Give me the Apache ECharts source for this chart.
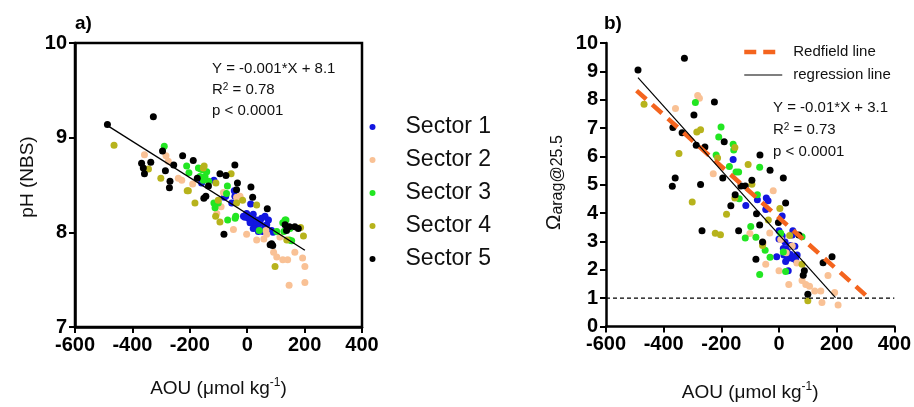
<!DOCTYPE html>
<html>
<head>
<meta charset="utf-8">
<script src="https://cdn.jsdelivr.net/npm/echarts@6/dist/echarts.min.js"></script>
<style>
html,body{margin:0;padding:0;background:#fff;}
#chart{width:914px;height:407px;}
</style>
</head>
<body>
<div id="chart"></div>
<script>
// ---------- DATA ----------
const sectorNames = ['Sector 1', 'Sector 2', 'Sector 3', 'Sector 4', 'Sector 5'];
const xTicks = [-600, -400, -200, 0, 200, 400];

// Panel a: pH (NBS) vs AOU
const pHSector1 = [[-159,8.52],[-116,8.55],[-80,8.37],[-75,8.38],[-54,8.31],[-45,8.44],[-43,8.38],[-2,8.2],[4,8.15],[12,8.3],[13,8.13],[21,8.19],[27,8.08],[33,8.04],[45,8.1],[50,8.15],[62,8.17],[68,8.08],[54,8.01],[39,8.01],[21,8.04],[10,8.1],[-8,8.16],[-13,8.17],[85,8.02],[74,8.13],[33,8.13],[45,8.03],[62,8.06],[90,8.0]];
const pHSector2 = [[-358,8.82],[-283,8.81],[-275,8.75],[-240,8.57],[-228,8.55],[-190,8.51],[-106,8.2],[-91,8.27],[-83,8.42],[-37,8.37],[-25,8.38],[-22,8.35],[-48,8.03],[-2,7.98],[33,7.92],[58,7.93],[65,8.02],[68,7.98],[92,7.79],[103,7.74],[114,7.95],[124,7.71],[141,7.71],[166,7.79],[193,7.73],[201,7.64],[146,7.44],[201,7.47]];
const pHSector3 = [[-289,8.91],[-211,8.7],[-203,8.63],[-170,8.68],[-162,8.67],[-155,8.66],[-147,8.59],[-141,8.64],[-165,8.59],[-134,8.54],[-153,8.55],[-116,8.31],[-101,8.31],[-112,8.26],[-72,8.41],[-69,8.49],[-68,8.13],[-42,8.15],[-40,8.17],[42,8.02],[103,8.01],[124,8.1],[132,8.13],[135,8.13],[138,8.03],[149,8.04],[128,8.01],[147,7.92],[155,7.91]];
const pHSector4 = [[-464,8.92],[-344,8.67],[-301,8.57],[-209,8.44],[-205,8.44],[-182,8.31],[-150,8.7],[-153,8.68],[-109,8.52],[-110,8.17],[-95,8.11],[-101,8.34],[-56,8.62],[-37,8.31],[-16,8.34],[33,8.29],[97,7.64],[138,7.92],[186,8.05],[196,7.96]];
const pHSector5 = [[-487,9.14],[-327,9.22],[-368,8.73],[-336,8.74],[-362,8.68],[-358,8.62],[-295,8.86],[-285,8.65],[-269,8.54],[-271,8.47],[-256,8.71],[-225,8.81],[-188,8.76],[-174,8.57],[-151,8.36],[-144,8.38],[-135,8.49],[-95,8.62],[-74,8.6],[-43,8.71],[-34,8.52],[-37,8.45],[13,8.48],[19,8.37],[-81,7.98],[70,8.25],[85,7.88],[89,7.86],[80,7.87],[137,8.02],[147,8.06],[166,8.06],[178,8.04],[132,8.08]];
const pHRegression = [[-488,9.13],[201,7.81]];

// Panel b: Omega arag@25.5 vs AOU
const omSector1 = [[-159,5.89],[-115,4.27],[-75,4.47],[-44,4.53],[-38,4.44],[-46,4.13],[11,3.9],[0,3.38],[11,3.19],[21,2.98],[29,2.75],[15,2.75],[17,2.52],[29,2.4],[23,2.29],[32,1.97],[40,2.86],[46,3.23],[48,3.38],[55,2.83],[40,2.54],[63,2.52],[58,2.35],[48,2.4],[-8,2.46],[0,3.09]];
const omSector2 = [[-359,7.69],[-282,8.15],[-276,8.05],[-228,5.39],[-101,3.28],[-32,3.3],[-20,4.79],[-46,2.2],[0,1.97],[34,1.48],[62,2.24],[80,1.62],[93,1.48],[106,1.42],[124,1.25],[145,1.25],[170,1.8],[149,0.85],[193,1.2],[205,0.76],[6,3.07],[46,2.84],[-55,2.95],[25,2.6]];
const omSector3 = [[-290,7.9],[-201,7.04],[-209,6.68],[-218,6.05],[-172,5.64],[-159,6.43],[-157,6.23],[-149,5.45],[-140,5.45],[-138,4.51],[-75,4.65],[-67,5.62],[-98,3.53],[-117,3.12],[-80,3.15],[-48,2.69],[-31,2.44],[-67,1.83],[6,3.29],[15,2.63],[80,3.17],[23,1.94]];
const omSector4 = [[-468,7.84],[-347,6.1],[-285,6.86],[-272,6.94],[-301,4.39],[-221,3.29],[-203,3.24],[-213,5.94],[-153,6.31],[-182,3.96],[-153,4.53],[-107,5.71],[-94,5.02],[-57,2.86],[-37,3.76],[3,4.16],[37,3.21],[80,2.2],[100,0.91]];
const omSector5 = [[-489,9.05],[-328,9.46],[-368,7.02],[-336,6.83],[-370,4.95],[-360,5.24],[-295,7.46],[-287,6.39],[-257,6.33],[-272,5.01],[-267,3.38],[-224,7.92],[-190,6.52],[-195,5.24],[-167,4.26],[-152,4.65],[-132,4.96],[-117,4.96],[-140,3.38],[-94,5.16],[-78,3.98],[-66,6.05],[-31,5.51],[-67,3.58],[-80,2.37],[-57,2.98],[-2,3.67],[15,5.24],[23,4.36],[69,3.23],[88,1.97],[84,1.81],[100,1.14],[153,2.25],[184,2.46]];
const omRegression = [[-489,8.78],[196,1.02]];
const omRedfield = [[-494,8.32],[310,1.02]];
const omThreshold = [[-600,1],[400,1]];

// ---------- STYLE ----------
const colors = ['#1216e0', '#f9c195', '#22e622', '#b7b31c', '#000000'];
const FF = "'Liberation Sans', Arial, sans-serif";
const pHData = [pHSector1, pHSector2, pHSector3, pHSector4, pHSector5];
const omData = [omSector1, omSector2, omSector3, omSector4, omSector5];

function axisCommon() {
  return {
    axisLine: {show: true, onZero: false, lineStyle: {color: '#000', width: 2.5}},
    axisTick: {show: true, inside: false, length: 6, lineStyle: {color: '#000', width: 2}},
    splitLine: {show: false},
    axisLabel: {color: '#000', fontFamily: FF, fontWeight: 'bold', fontSize: 20}
  };
}
const aouName = '{m|AOU (\u03bcmol kg}{s|-1}{m|)}';
const aouRich = {m: {fontSize: 19, fontFamily: FF, color: '#111', lineHeight: 24},
                 s: {fontSize: 12, fontFamily: FF, color: '#111', verticalAlign: 'top'}};

const series = [];
sectorNames.forEach((n, i) => {
  series.push({name: n, type: 'scatter', xAxisIndex: 0, yAxisIndex: 0, data: pHData[i],
    symbol: 'circle', symbolSize: 7, itemStyle: {color: colors[i], opacity: 1}, z: 2});
  series.push({name: n, type: 'scatter', xAxisIndex: 1, yAxisIndex: 1, data: omData[i],
    symbol: 'circle', symbolSize: 7, itemStyle: {color: colors[i], opacity: 1}, z: 2});
});
series.push({name: 'regA', type: 'line', xAxisIndex: 0, yAxisIndex: 0, data: pHRegression,
  symbol: 'none', lineStyle: {color: '#000', width: 1.3}, z: 3});
series.push({name: 'threshold', type: 'line', xAxisIndex: 1, yAxisIndex: 1, data: omThreshold,
  symbol: 'none', lineStyle: {color: '#000', width: 1.2, type: [4, 3]}, z: 3});
series.push({name: 'Redfield line', type: 'line', xAxisIndex: 1, yAxisIndex: 1, data: omRedfield,
  symbol: 'none', itemStyle: {color: '#f4641e'}, lineStyle: {color: '#f4641e', width: 4.5, type: [13, 8]}, z: 4});
series.push({name: 'regression line', type: 'line', xAxisIndex: 1, yAxisIndex: 1, data: omRegression,
  symbol: 'none', itemStyle: {color: '#000'}, lineStyle: {color: '#000', width: 1.2}, z: 5});

const option = {
  animation: false,
  backgroundColor: '#fff',
  grid: [
    {left: 75, top: 43, width: 287, height: 284, show: true, borderColor: '#000', borderWidth: 2.5, backgroundColor: 'transparent'},
    {left: 606, top: 43, width: 290, height: 290}
  ],
  xAxis: [
    Object.assign(axisCommon(), {type: 'value', gridIndex: 0, min: -600, max: 400, interval: 200,
      name: aouName, nameLocation: 'middle', nameGap: 50, nameTextStyle: {rich: aouRich}}),
    Object.assign(axisCommon(), {type: 'value', gridIndex: 1, min: -600, max: 400, interval: 200,
      name: aouName, nameLocation: 'middle', nameGap: 54, nameTextStyle: {rich: aouRich}})
  ],
  yAxis: [
    Object.assign(axisCommon(), {type: 'value', gridIndex: 0, min: 7, max: 10, interval: 1,
      name: 'pH (NBS)', nameLocation: 'middle', nameGap: 38,
      nameTextStyle: {fontSize: 19, fontFamily: FF, color: '#111', padding: [0, 0, 0, 16]}}),
    Object.assign(axisCommon(), {type: 'value', gridIndex: 1, min: 0, max: 10, interval: 1,
      name: '{o|\u03a9}{s|arag@25.5}', nameLocation: 'middle', nameGap: 40,
      nameTextStyle: {padding: [0, 0, 0, 4], rich: {
        o: {fontSize: 21, fontFamily: FF, color: '#111', lineHeight: 24},
        s: {fontSize: 16, fontFamily: FF, color: '#111', verticalAlign: 'bottom'}
      }}})
  ],
  legend: [
    {data: sectorNames, orient: 'vertical', left: 369.5, top: 115.5, padding: 0,
      icon: 'circle', itemWidth: 6, itemHeight: 6, itemGap: 10,
      textStyle: {fontSize: 23, fontFamily: FF, color: '#111', lineHeight: 23, padding: [0, 0, 0, 25]}},
    {data: [
        {name: 'Redfield line', lineStyle: {width: 4.5, type: [12, 7], color: '#f4641e'}},
        {name: 'regression line', lineStyle: {width: 1.2, type: 'solid', color: '#000'}}
      ],
      orient: 'vertical', left: 742, top: 44, padding: 0,
      itemWidth: 38, itemHeight: 14, itemGap: 7,
      itemStyle: {opacity: 0, borderWidth: 0},
      textStyle: {fontSize: 15, fontFamily: FF, color: '#111', lineHeight: 16, padding: [0, 0, 0, 6]}}
  ],
  graphic: [
    {type: 'text', left: 75, top: 14, style: {text: 'a)', font: 'bold 19px ' + FF, fill: '#000'}},
    {type: 'text', left: 604, top: 14, style: {text: 'b)', font: 'bold 19px ' + FF, fill: '#000'}},
    {type: 'text', x: 212, y: 68.5, style: {text: 'Y = -0.001*X + 8.1', font: '15px ' + FF, fill: '#111', verticalAlign: 'middle'}},
    {type: 'text', x: 212, y: 90, style: {text: '{n|R}{s|2}{n| = 0.78}', verticalAlign: 'middle',
      rich: {n: {fontSize: 15, fontFamily: FF, fill: '#111'}, s: {fontSize: 10, fontFamily: FF, fill: '#111', verticalAlign: 'top'}}}},
    {type: 'text', x: 212, y: 110.5, style: {text: 'p < 0.0001', font: '15px ' + FF, fill: '#111', verticalAlign: 'middle'}},
    {type: 'text', x: 773, y: 108, style: {text: 'Y = -0.01*X + 3.1', font: '15px ' + FF, fill: '#111', verticalAlign: 'middle'}},
    {type: 'text', x: 773, y: 130, style: {text: '{n|R}{s|2}{n| = 0.73}', verticalAlign: 'middle',
      rich: {n: {fontSize: 15, fontFamily: FF, fill: '#111'}, s: {fontSize: 10, fontFamily: FF, fill: '#111', verticalAlign: 'top'}}}},
    {type: 'text', x: 773, y: 152, style: {text: 'p < 0.0001', font: '15px ' + FF, fill: '#111', verticalAlign: 'middle'}}
  ],
  series: series
};

const chart = echarts.init(document.getElementById('chart'), null, {renderer: 'canvas'});
chart.setOption(option);
</script>
</body>
</html>
